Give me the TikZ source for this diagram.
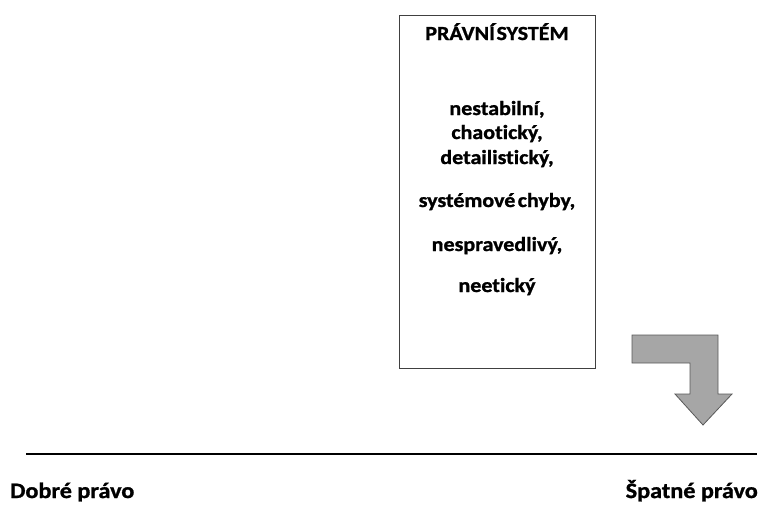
\documentclass[tikz,border=0pt]{standalone}
\usepackage{fontspec}
\setmainfont{Carlito}[FakeStretch=1.1, Ligatures=NoCommon, BoldFeatures={FakeBold=1.2}]
\begin{document}
\begin{tikzpicture}[x=1pt,y=-1pt,
  boxtext/.style={font=\bfseries\fontsize{20}{22}\selectfont, inner sep=0pt, anchor=base},
  lbl/.style={font=\bfseries\fontsize{22}{24}\selectfont, inner sep=0pt}]
\useasboundingbox (0,0) rectangle (766,504);
\node[draw=black!75, line width=1.1pt, minimum width=196pt, minimum height=353pt, anchor=north west, inner sep=0pt] (box) at (399,15) {};
\node[boxtext] (title) at (497,40) {PRÁVNÍ\hspace{0.08em}SYSTÉM};
\node[boxtext] (i1) at (497,115) {nestabilní,};
\node[boxtext] (i2) at (497,139) {chaotický,};
\node[boxtext] (i3) at (497,164) {detailistický,};
\node[boxtext] (i4) at (497,207) {systémové\hspace{0.12em}chyby,};
\node[boxtext] (i5) at (497,251) {nespravedlivý,};
\node[boxtext] (i6) at (497,292) {neetický};
\draw[fill=black!35, draw=black!65, line width=0.8pt]
  (632,335) -- (718,335) -- (718,394) -- (732,394) -- (703,425) -- (675,394) -- (690,394) -- (690,363) -- (632,363) -- cycle;
\coordinate (l1) at (26,454);
\coordinate (l2) at (757,454);
\draw[line width=1.8pt] (l1) -- (l2);
\node[lbl, anchor=base west] (good) at (10,498) {Dobré právo};
\node[lbl, anchor=base east] (bad) at (758,498) {Špatné právo};
\end{tikzpicture}
\end{document}
